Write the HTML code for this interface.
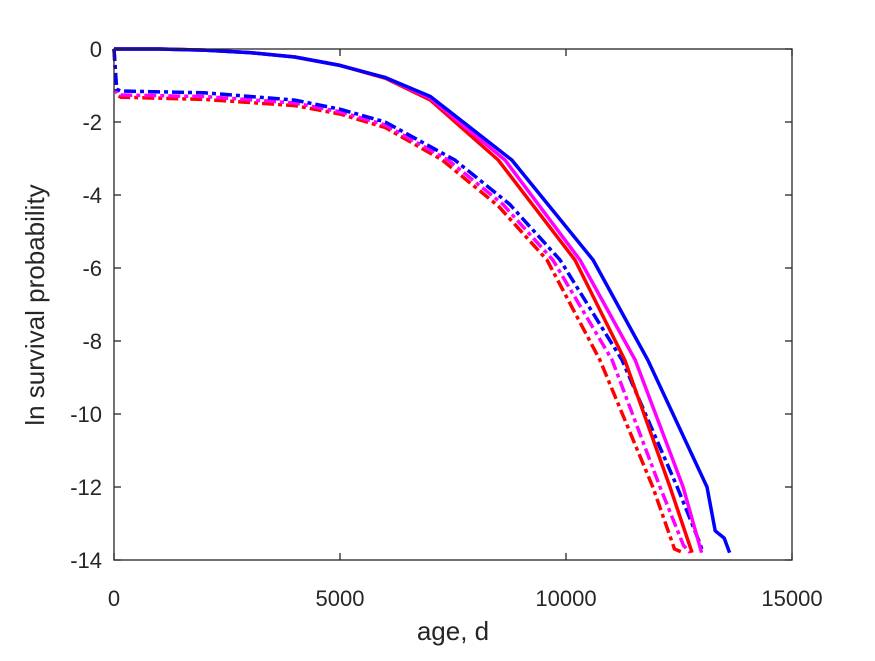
<!DOCTYPE html>
<html><head><meta charset="utf-8"><style>
html,body{margin:0;padding:0;background:#fff;}
svg text{font-family:"Liberation Sans",sans-serif;fill:#262626;}
</style></head><body>
<svg id="chart" width="875" height="656" viewBox="0 0 875 656" xmlns="http://www.w3.org/2000/svg">
<rect x="0" y="0" width="875" height="656" fill="#fff"/>
<g id="series"></g>
<g id="axes"></g>
<text x="453" y="640" font-size="26" text-anchor="middle">age, d</text>
<text x="0" y="0" font-size="26" text-anchor="middle" transform="translate(44,305) rotate(-90)">ln survival probability</text>
</svg>
<script>
const xTicks=[0,5000,10000,15000];
const yTicks=[0,-2,-4,-6,-8,-10,-12,-14];
const redDashAges=[0,60,150,2000,4000,5000,6000,7260,8500,9580,10750,11920,12400,12600];
const redDashVals=[0,-1.25,-1.32,-1.38,-1.55,-1.78,-2.15,-3.04,-4.3,-5.78,-8.52,-12,-13.7,-13.8];
const magDashAges=[0,60,150,2000,4000,5000,6000,7390,8600,9710,11020,12080,12600,12750];
const magDashVals=[0,-1.2,-1.26,-1.3,-1.48,-1.72,-2.08,-3.04,-4.25,-5.78,-8.52,-12,-13.6,-13.8];
const blueDashAges=[0,60,150,2000,4000,5000,6000,7540,8750,9870,11240,12460,12950,13030];
const blueDashVals=[0,-1.1,-1.15,-1.2,-1.4,-1.65,-2.0,-3.04,-4.25,-5.78,-8.52,-12,-13.5,-13.8];
const redAges=[0,1000,2000,3000,4000,5000,6000,7000,8500,10200,11300,12300,12790];
const redVals=[0,0,-0.03,-0.1,-0.22,-0.45,-0.8,-1.4,-3.04,-5.78,-8.52,-12,-13.8];
const magAges=[0,1000,2000,3000,4000,5000,6000,7000,8650,10310,11530,12590,13000];
const magVals=[0,0,-0.03,-0.1,-0.22,-0.45,-0.78,-1.35,-3.04,-5.78,-8.52,-12,-13.8];
const blueAges=[0,1000,2000,3000,4000,5000,6000,7000,8800,10600,11810,13120,13300,13500,13620];
const blueVals=[0,0,-0.03,-0.1,-0.22,-0.45,-0.78,-1.3,-3.04,-5.78,-8.52,-12,-13.2,-13.4,-13.8];

const L=114,R=792,T=49,B=560;
function xs(v){return L+(v-0)/(15000-0)*(R-L);}
function ys(v){return T+(0-v)/(0-(-14))*(B-T);}
const NS="http://www.w3.org/2000/svg";
const sg=document.getElementById('series');
const ag=document.getElementById('axes');
const series=[
 ['red-dashdot-line',redDashAges,redDashVals,'#ff0000',true],
 ['magenta-dashdot-line',magDashAges,magDashVals,'#ff00ff',true],
 ['blue-dashdot-line',blueDashAges,blueDashVals,'#0000ff',true],
 ['red-solid-line',redAges,redVals,'#ff0000',false],
 ['magenta-solid-line',magAges,magVals,'#ff00ff',false],
 ['blue-solid-line',blueAges,blueVals,'#0000ff',false]
];
series.forEach(s=>{
 const p=document.createElementNS(NS,'polyline');
 
 
 p.setAttribute('points',s[1].map((a,i)=>xs(a).toFixed(1)+','+ys(s[2][i]).toFixed(1)).join(' '));
 p.setAttribute('fill','none');
 p.setAttribute('stroke',s[3]);
 p.setAttribute('stroke-width','3.5');
 p.setAttribute('stroke-linejoin','round');
 if(s[4]) p.setAttribute('stroke-dasharray','12,4,4,4');
 sg.appendChild(p);
});
const box=document.createElementNS(NS,'rect');


box.setAttribute('x',L);box.setAttribute('y',T);
box.setAttribute('width',R-L);box.setAttribute('height',B-T);
box.setAttribute('fill','none');box.setAttribute('stroke','#262626');box.setAttribute('stroke-width','1.3');
ag.appendChild(box);
function line(x1,y1,x2,y2,name){
 const l=document.createElementNS(NS,'line');
 
 
 l.setAttribute('x1',x1);l.setAttribute('y1',y1);l.setAttribute('x2',x2);l.setAttribute('y2',y2);
 l.setAttribute('stroke','#262626');l.setAttribute('stroke-width','1.3');
 ag.appendChild(l);
}
xTicks.forEach(t=>{
 const x=xs(t);
 line(x,B,x,B-7,'x-tick');
 line(x,T,x,T+7,'x-tick-top');
 const tx=document.createElementNS(NS,'text');
 
 
 tx.setAttribute('x',x);tx.setAttribute('y',B+46);
 tx.setAttribute('font-size','22');tx.setAttribute('text-anchor','middle');
 tx.textContent=String(t);
 ag.appendChild(tx);
});
yTicks.forEach(t=>{
 const y=ys(t);
 line(L,y,L+7,y,'y-tick');
 line(R,y,R-7,y,'y-tick-right');
 const tx=document.createElementNS(NS,'text');
 
 
 tx.setAttribute('x',L-12);tx.setAttribute('y',y+8);
 tx.setAttribute('font-size','22');tx.setAttribute('text-anchor','end');
 tx.textContent=String(t);
 ag.appendChild(tx);
});
</script>
</body></html>
